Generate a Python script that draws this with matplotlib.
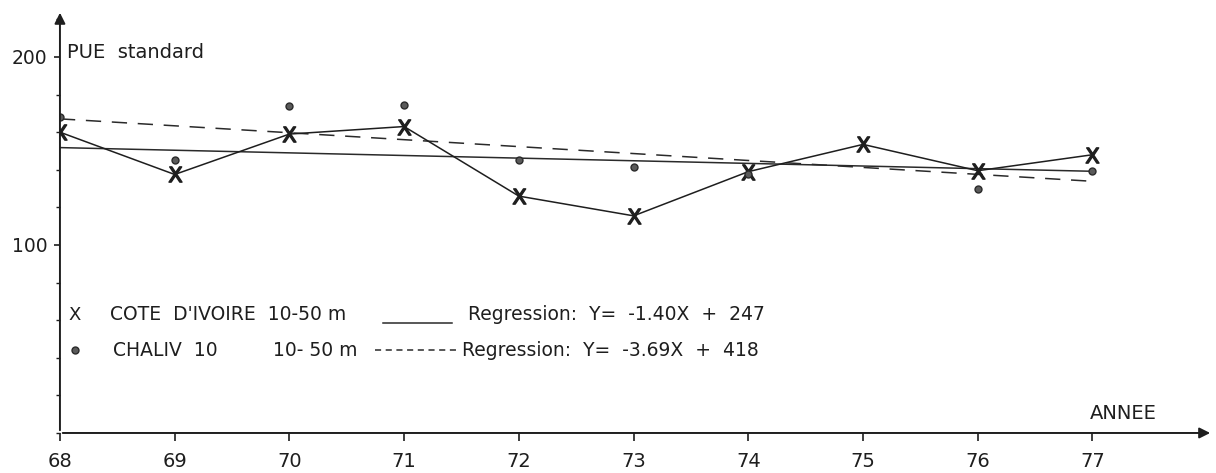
import numpy as np
import matplotlib.pyplot as plt
from matplotlib.ticker import MultipleLocator

# données
annees = [68, 69, 70, 71, 72, 73, 74, 75, 76, 77]
pue_ci = [160, 137.5, 159, 163, 126, 115.5, 139, 153.5, 139.5, 148]   # COTE D'IVOIRE (X)
annees_ch = [68, 69, 70, 71, 72, 73, 74, 76, 77]
pue_ch = [168, 145, 174, 174.5, 145, 141.5, 138, 130, 139.5]          # CHALIV 10 (o)

# droites de régression Y = a*X + b
reg_ci = (-1.40, 247)
reg_ch = (-3.69, 418)

x_ticks = [68, 69, 70, 71, 72, 73, 74, 75, 76, 77]
y_ticks = [100, 200]

plt.rcParams['font.family'] = ['DejaVu Sans']
fig = plt.figure(figsize=(12.16, 4.73), dpi=100)
ax = fig.add_axes([0.0493, 0.0846, 0.9482, 0.8943])
ax.set_xlim(68, 78.05)
ax.set_ylim(0, 225)

for s in ax.spines.values():
    s.set_visible(False)

noir = '#1e1e1e'

# axes avec flèches
ax.annotate('', xy=(78.05, 0), xytext=(68, 0),
            arrowprops=dict(arrowstyle='-|>', lw=1.4, color=noir, mutation_scale=16),
            annotation_clip=False)
ax.annotate('', xy=(68, 225), xytext=(68, 0),
            arrowprops=dict(arrowstyle='-|>', lw=1.4, color=noir, mutation_scale=16),
            annotation_clip=False)

ax.set_xticks(x_ticks)
ax.set_xticklabels([str(a) for a in x_ticks])
ax.set_yticks(y_ticks)
ax.set_yticklabels([str(v) for v in y_ticks])
ax.yaxis.set_minor_locator(MultipleLocator(20))
ax.tick_params(axis='x', direction='out', length=6, width=1.2, pad=8, labelsize=14, colors=noir)
ax.tick_params(axis='y', which='major', direction='out', length=4, width=1.2, pad=5, labelsize=13.5, colors=noir)
ax.tick_params(axis='y', which='minor', direction='out', length=3, width=1.0, colors=noir)

# régressions
xr = np.array([68, 77])
ax.plot(xr, reg_ci[0] * xr + reg_ci[1], color='#2a2a2a', lw=1.1)
ax.plot(xr, reg_ch[0] * xr + reg_ch[1], color='#2a2a2a', lw=1.1, dashes=(10, 7))

# séries
ax.plot(annees, pue_ci, color=noir, lw=1.1)
ax.plot(annees, pue_ci, ls='none', marker=r'$\mathsf{X}$', ms=11, color=noir)
ax.plot(annees_ch, pue_ch, ls='none', marker='o', ms=5, mfc='#5a5a5a', mec='#2a2a2a', mew=1.0)

# textes
ax.text(0.006, 0.900, 'PUE  standard', transform=ax.transAxes, fontsize=14,
        va='center', ha='left', color=noir)
ax.text(0.893, 0.045, 'ANNEE', transform=ax.transAxes, fontsize=14,
        va='center', ha='left', color=noir)

# légende
r1, r2 = 0.279, 0.196
fs = 13.5
ax.text(0.013, r1, 'X', transform=ax.transAxes, fontsize=13, va='center', ha='center', color=noir)
ax.text(0.043, r1, "COTE  D'IVOIRE  10-50 m", transform=ax.transAxes, fontsize=fs,
        va='center', ha='left', color=noir)
ax.plot([0.280, 0.340], [r1 - 0.018, r1 - 0.018], transform=ax.transAxes, color='#2a2a2a', lw=1.1)
ax.text(0.354, r1, 'Regression:  Y=  -1.40X  +  247', transform=ax.transAxes, fontsize=fs,
        va='center', ha='left', color=noir)

ax.plot([0.013], [r2], transform=ax.transAxes, marker='o', ms=5, mfc='#5a5a5a', mec='#2a2a2a', clip_on=False)
ax.text(0.046, r2, 'CHALIV  10', transform=ax.transAxes, fontsize=fs,
        va='center', ha='left', color=noir)
ax.text(0.185, r2, '10- 50 m', transform=ax.transAxes, fontsize=fs,
        va='center', ha='left', color=noir)
ax.plot([0.273, 0.347], [r2, r2], transform=ax.transAxes, color='#2a2a2a', lw=1.1, dashes=(4, 3))
ax.text(0.349, r2, 'Regression:  Y=  -3.69X  +  418', transform=ax.transAxes, fontsize=fs,
        va='center', ha='left', color=noir)

fig.savefig('out.png', dpi=100)
